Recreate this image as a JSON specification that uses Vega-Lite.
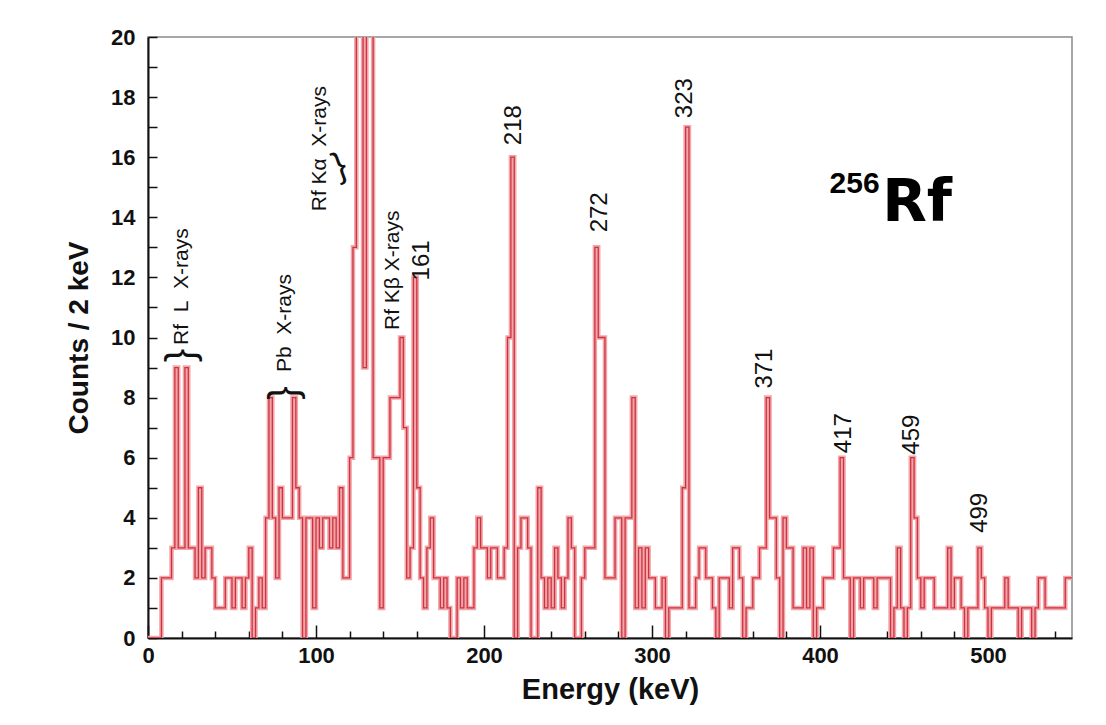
{
  "$schema": "https://vega.github.io/schema/vega-lite/v6.json",
  "width": 924,
  "height": 601,
  "autosize": "none",
  "padding": {"left": 148, "top": 37, "right": 34, "bottom": 87},
  "background": "white",
  "config": {
    "view": {"stroke": "#8a8a8a", "strokeWidth": 1.5},
    "font": "Liberation Sans"
  },
  "datasets": {
    "spec": [
      {"E":0,"c":0},{"E":2,"c":0},{"E":4,"c":0},{"E":6,"c":0},{"E":8,"c":2},{"E":10,"c":2},{"E":12,"c":2},{"E":14,"c":3},{"E":16,"c":9},{"E":18,"c":3},
      {"E":20,"c":3},{"E":22,"c":9},{"E":24,"c":3},{"E":26,"c":3},{"E":28,"c":2},{"E":30,"c":5},{"E":32,"c":2},{"E":34,"c":3},{"E":36,"c":3},{"E":38,"c":2},
      {"E":40,"c":1},{"E":42,"c":1},{"E":44,"c":1},{"E":46,"c":2},{"E":48,"c":2},{"E":50,"c":1},{"E":52,"c":2},{"E":54,"c":2},{"E":56,"c":1},{"E":58,"c":2},
      {"E":60,"c":3},{"E":62,"c":0},{"E":64,"c":1},{"E":66,"c":2},{"E":68,"c":1},{"E":70,"c":4},{"E":72,"c":8},{"E":74,"c":4},{"E":76,"c":2},{"E":78,"c":5},
      {"E":80,"c":4},{"E":82,"c":4},{"E":84,"c":4},{"E":86,"c":8},{"E":88,"c":5},{"E":90,"c":4},{"E":92,"c":0},{"E":94,"c":4},{"E":96,"c":4},{"E":98,"c":1},
      {"E":100,"c":4},{"E":102,"c":3},{"E":104,"c":4},{"E":106,"c":4},{"E":108,"c":3},{"E":110,"c":4},{"E":112,"c":3},{"E":114,"c":5},{"E":116,"c":2},{"E":118,"c":2},
      {"E":120,"c":6},{"E":122,"c":13},{"E":124,"c":30},{"E":126,"c":30},{"E":128,"c":9},{"E":130,"c":30},{"E":132,"c":30},{"E":134,"c":6},{"E":136,"c":6},{"E":138,"c":1},
      {"E":140,"c":6},{"E":142,"c":6},{"E":144,"c":8},{"E":146,"c":8},{"E":148,"c":8},{"E":150,"c":10},{"E":152,"c":7},{"E":154,"c":2},{"E":156,"c":3},{"E":158,"c":12},
      {"E":160,"c":5},{"E":162,"c":2},{"E":164,"c":1},{"E":166,"c":3},{"E":168,"c":4},{"E":170,"c":2},{"E":172,"c":2},{"E":174,"c":1},{"E":176,"c":2},{"E":178,"c":1},
      {"E":180,"c":0},{"E":182,"c":0},{"E":184,"c":2},{"E":186,"c":1},{"E":188,"c":2},{"E":190,"c":1},{"E":192,"c":1},{"E":194,"c":3},{"E":196,"c":4},{"E":198,"c":3},
      {"E":200,"c":3},{"E":202,"c":2},{"E":204,"c":3},{"E":206,"c":3},{"E":208,"c":2},{"E":210,"c":2},{"E":212,"c":3},{"E":214,"c":10},{"E":216,"c":16},{"E":218,"c":0},
      {"E":220,"c":3},{"E":222,"c":4},{"E":224,"c":4},{"E":226,"c":3},{"E":228,"c":0},{"E":230,"c":0},{"E":232,"c":5},{"E":234,"c":2},{"E":236,"c":1},{"E":238,"c":2},
      {"E":240,"c":1},{"E":242,"c":3},{"E":244,"c":2},{"E":246,"c":1},{"E":248,"c":2},{"E":250,"c":4},{"E":252,"c":3},{"E":254,"c":0},{"E":256,"c":0},{"E":258,"c":2},
      {"E":260,"c":3},{"E":262,"c":3},{"E":264,"c":3},{"E":266,"c":13},{"E":268,"c":10},{"E":270,"c":10},{"E":272,"c":2},{"E":274,"c":2},{"E":276,"c":2},{"E":278,"c":4},
      {"E":280,"c":4},{"E":282,"c":0},{"E":284,"c":4},{"E":286,"c":4},{"E":288,"c":8},{"E":290,"c":1},{"E":292,"c":3},{"E":294,"c":1},{"E":296,"c":3},{"E":298,"c":2},
      {"E":300,"c":2},{"E":302,"c":1},{"E":304,"c":1},{"E":306,"c":2},{"E":308,"c":0},{"E":310,"c":1},{"E":312,"c":1},{"E":314,"c":1},{"E":316,"c":1},{"E":318,"c":5},
      {"E":320,"c":17},{"E":322,"c":1},{"E":324,"c":1},{"E":326,"c":2},{"E":328,"c":3},{"E":330,"c":3},{"E":332,"c":2},{"E":334,"c":2},{"E":336,"c":1},{"E":338,"c":0},
      {"E":340,"c":2},{"E":342,"c":2},{"E":344,"c":2},{"E":346,"c":1},{"E":348,"c":3},{"E":350,"c":3},{"E":352,"c":2},{"E":354,"c":0},{"E":356,"c":1},{"E":358,"c":1},
      {"E":360,"c":2},{"E":362,"c":2},{"E":364,"c":3},{"E":366,"c":3},{"E":368,"c":8},{"E":370,"c":4},{"E":372,"c":4},{"E":374,"c":2},{"E":376,"c":0},{"E":378,"c":4},
      {"E":380,"c":3},{"E":382,"c":3},{"E":384,"c":1},{"E":386,"c":1},{"E":388,"c":1},{"E":390,"c":3},{"E":392,"c":1},{"E":394,"c":3},{"E":396,"c":0},{"E":398,"c":1},
      {"E":400,"c":1},{"E":402,"c":2},{"E":404,"c":2},{"E":406,"c":2},{"E":408,"c":3},{"E":410,"c":3},{"E":412,"c":6},{"E":414,"c":2},{"E":416,"c":2},{"E":418,"c":0},
      {"E":420,"c":2},{"E":422,"c":2},{"E":424,"c":1},{"E":426,"c":2},{"E":428,"c":2},{"E":430,"c":2},{"E":432,"c":1},{"E":434,"c":2},{"E":436,"c":2},{"E":438,"c":2},
      {"E":440,"c":2},{"E":442,"c":0},{"E":444,"c":1},{"E":446,"c":3},{"E":448,"c":1},{"E":450,"c":0},{"E":452,"c":1},{"E":454,"c":6},{"E":456,"c":4},{"E":458,"c":2},
      {"E":460,"c":1},{"E":462,"c":2},{"E":464,"c":2},{"E":466,"c":2},{"E":468,"c":1},{"E":470,"c":1},{"E":472,"c":1},{"E":474,"c":1},{"E":476,"c":3},{"E":478,"c":1},
      {"E":480,"c":2},{"E":482,"c":2},{"E":484,"c":1},{"E":486,"c":0},{"E":488,"c":1},{"E":490,"c":1},{"E":492,"c":1},{"E":494,"c":3},{"E":496,"c":2},{"E":498,"c":1},
      {"E":500,"c":0},{"E":502,"c":1},{"E":504,"c":1},{"E":506,"c":1},{"E":508,"c":1},{"E":510,"c":2},{"E":512,"c":1},{"E":514,"c":1},{"E":516,"c":1},{"E":518,"c":0},
      {"E":520,"c":1},{"E":522,"c":1},{"E":524,"c":1},{"E":526,"c":0},{"E":528,"c":1},{"E":530,"c":2},{"E":532,"c":2},{"E":534,"c":1},{"E":536,"c":1},{"E":538,"c":1},
      {"E":540,"c":1},{"E":542,"c":1},{"E":544,"c":1},{"E":546,"c":2},{"E":548,"c":2},{"E":550,"c":2}
    ],
    "peaks": [
      {"E":218,"c":16.4,"t":"218"},
      {"E":269,"c":13.5,"t":"272"},
      {"E":319.5,"c":17.3,"t":"323"},
      {"E":367.5,"c":8.3,"t":"371"},
      {"E":414.5,"c":6.15,"t":"417"},
      {"E":455,"c":6.1,"t":"459"},
      {"E":495.5,"c":3.5,"t":"499"},
      {"E":163,"c":11.9,"t":"161"}
    ],
    "groups": [
      {"E":20.5,"c":9.75,"t":"Rf\u00a0\u00a0L\u00a0\u00a0X-rays"},
      {"E":81.5,"c":8.85,"t":"Pb\u00a0\u00a0X-rays"},
      {"E":102.5,"c":14.2,"t":"Rf Kα\u00a0\u00a0X-rays"},
      {"E":146,"c":10.25,"t":"Rf Kβ X-rays"}
    ],
    "braces": [
      {"E":20.5,"c":9.4,"t":"}"},
      {"E":81.5,"c":8.15,"t":"}"}
    ]
  },
  "layer": [
    {
      "data": {"name": "spec"},
      "mark": {"type": "line", "interpolate": "step-after", "stroke": "#f3a6aa", "strokeWidth": 4.5, "clip": true},
      "encoding": {
        "x": {
          "field": "E", "type": "quantitative",
          "scale": {"domain": [0, 550], "nice": false, "zero": false},
          "axis": {
            "title": "Energy (keV)",
            "titleFont": "Liberation Sans", "titleFontSize": 29, "titleFontWeight": "bold", "titleColor": "#111", "titlePadding": 3,
            "values": [0,20,40,60,80,100,120,140,160,180,200,220,240,260,280,300,320,340,360,380,400,420,440,460,480,500,520,540],
            "tickCount": 100,
            "format": "d",
            "labelExpr": "datum.value % 100 === 0 ? datum.label : ''",
            "labelOverlap": false,
            "labelFont": "Liberation Sans", "labelFontSize": 22, "labelFontWeight": "bold", "labelColor": "#111",
            "labelPadding": 20, "labelFlush": false,
            "tickSize": {"condition": {"test": "datum.value % 100 === 0", "value": -13}, "value": -7},
            "tickColor": "#111", "tickWidth": 1.5,
            "domainColor": "#111", "domainWidth": 2,
            "grid": false
          }
        },
        "y": {
          "field": "c", "type": "quantitative",
          "scale": {"domain": [0, 20], "nice": false},
          "axis": {
            "title": "Counts / 2 keV",
            "titleFont": "Liberation Sans", "titleFontSize": 28, "titleFontWeight": "bold", "titleColor": "#111", "titlePadding": 17,
            "values": [0,1,2,3,4,5,6,7,8,9,10,11,12,13,14,15,16,17,18,19,20],
            "tickCount": 100,
            "format": "d",
            "labelExpr": "datum.value % 2 === 0 ? datum.label : ''",
            "labelOverlap": false,
            "labelFont": "Liberation Sans", "labelFontSize": 22, "labelFontWeight": "bold", "labelColor": "#111",
            "labelPadding": 22, "labelFlush": false,
            "tickSize": -9, "tickColor": "#111", "tickWidth": 1.5,
            "domainColor": "#111", "domainWidth": 2,
            "grid": false
          }
        }
      }
    },
    {
      "data": {"name": "spec"},
      "mark": {"type": "line", "interpolate": "step-after", "stroke": "#cc3340", "strokeWidth": 1.3, "clip": true},
      "encoding": {
        "x": {"field": "E", "type": "quantitative"},
        "y": {"field": "c", "type": "quantitative"}
      }
    },
    {
      "data": {"name": "peaks"},
      "mark": {"type": "text", "angle": 270, "align": "left", "baseline": "middle", "font": "Liberation Sans", "fontSize": 24, "color": "#111"},
      "encoding": {
        "x": {"field": "E", "type": "quantitative"},
        "y": {"field": "c", "type": "quantitative"},
        "text": {"field": "t"}
      }
    },
    {
      "data": {"name": "groups"},
      "mark": {"type": "text", "angle": 270, "align": "left", "baseline": "middle", "font": "Liberation Sans", "fontSize": 21, "color": "#111"},
      "encoding": {
        "x": {"field": "E", "type": "quantitative"},
        "y": {"field": "c", "type": "quantitative"},
        "text": {"field": "t"}
      }
    },
    {
      "data": {"name": "braces"},
      "mark": {"type": "text", "angle": 270, "align": "center", "baseline": "middle", "font": "Liberation Sans", "fontSize": 40, "color": "#111"},
      "encoding": {
        "x": {"field": "E", "type": "quantitative"},
        "y": {"field": "c", "type": "quantitative"},
        "text": {"field": "t"}
      }
    },
    {
      "data": {"values": [{"E": 114, "c": 15.7, "t": "}"}]},
      "mark": {"type": "text", "angle": 340, "align": "center", "baseline": "middle", "font": "Liberation Sans", "fontSize": 36, "color": "#111"},
      "encoding": {
        "x": {"field": "E", "type": "quantitative"},
        "y": {"field": "c", "type": "quantitative"},
        "text": {"field": "t"}
      }
    },
    {
      "data": {"values": [{"E": 435.5, "c": 14.8, "t": "256"}]},
      "mark": {"type": "text", "align": "right", "baseline": "alphabetic", "font": "Liberation Sans", "fontSize": 30, "fontWeight": "bold", "color": "#000"},
      "encoding": {
        "x": {"field": "E", "type": "quantitative"},
        "y": {"field": "c", "type": "quantitative"},
        "text": {"field": "t"}
      }
    },
    {
      "data": {"values": [{"E": 437, "c": 13.87, "t": "Rf"}]},
      "mark": {"type": "text", "align": "left", "baseline": "alphabetic", "font": "DejaVu Sans", "fontSize": 58, "fontWeight": "bold", "color": "#000"},
      "encoding": {
        "x": {"field": "E", "type": "quantitative"},
        "y": {"field": "c", "type": "quantitative"},
        "text": {"field": "t"}
      }
    }
  ]
}
